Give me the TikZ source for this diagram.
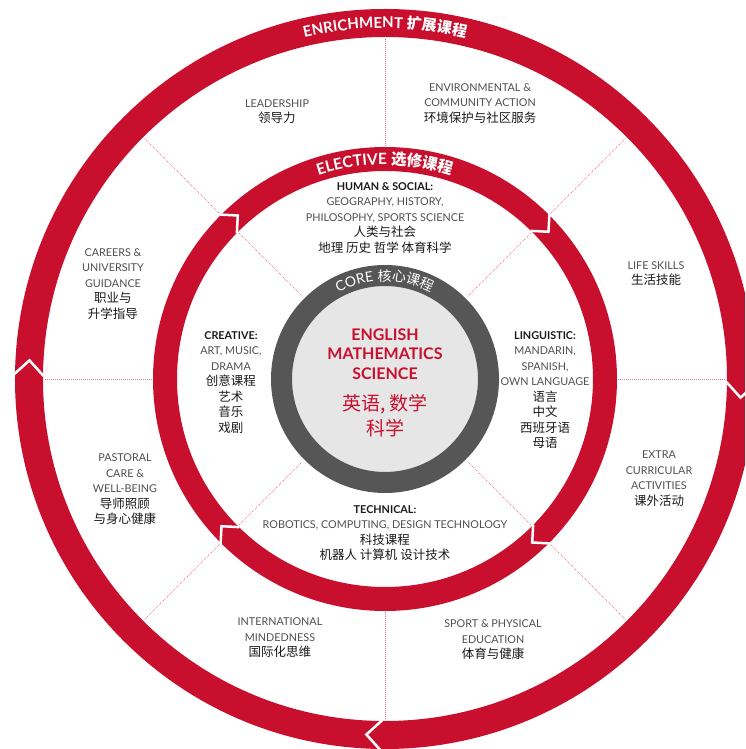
\documentclass[tikz,border=0pt]{standalone}
\usepackage{fontspec}
\setmainfont{Lato}
\newfontfamily\cjk{Noto Sans CJK SC}
\usetikzlibrary{calc,decorations.text}

\definecolor{ringred}{HTML}{C8102E}
\definecolor{coregray}{HTML}{575656}
\definecolor{corefill}{HTML}{E6E6E6}
\definecolor{divred}{HTML}{E0707E}
\definecolor{textgray}{HTML}{505050}
\definecolor{textdark}{HTML}{1A1A1A}

\newcommand{\entext}{\fontsize{10.8}{15.5}\selectfont}
\newcommand{\zhtext}{\color{textdark}\cjk\fontsize{12.5}{15.5}\selectfont}
\newcommand{\headtext}{\color{textdark}\bfseries}

\tikzset{
  blurb/.style={align=center, inner sep=0pt, text=textgray, font=\entext},
  divider/.style={draw=divred, line width=0.6pt, dash pattern=on 1pt off 1pt},
  notch/.style={draw=white, line width=2.5pt, line cap=butt, line join=miter},
}

\begin{document}
\begin{tikzpicture}[x=1pt,y=1pt]
    \useasboundingbox (-385,-370) rectangle (360,379);
    \clip (-385,-370) rectangle (360,379);
    \fill[white] (-385,-370) rectangle (360,379);

    % Rings
    \draw[ringred, line width=28pt] (0,0) circle (356);
    \draw[ringred, line width=24pt] (0,0) circle (220);
    \fill[corefill] (0,0) circle (103);
    \draw[coregray, line width=21pt] (0,0) circle (103.5);

    % Arrow notches, running clockwise
    \foreach \a in {177,267,357}
        \draw[notch] ($(\a:356)+(\a+45:21)$) -- (\a:356) -- ($(\a:356)+(\a+135:21)$);
    \foreach \a in {132,42,-48,-138}
        \draw[notch] ($(\a:220)+(\a+45:18)$) -- (\a:220) -- ($(\a:220)+(\a+135:18)$);

    % Dividers
    \foreach \a in {0,45,...,315}
        \draw[divider] (\a:233) -- (\a:341);
    \foreach \a in {45,135,225,315}
        \draw[divider] (\a:117) -- (\a:207);

    % Ring titles
    \path[decorate, decoration={text along path, text align=center,
        text={|\color{white}\bfseries\fontsize{15}{15}\selectfont|ENRICHMENT |\color{white}\cjk\bfseries\fontsize{15}{15}\selectfont|扩展课程}}]
        (115:351) arc (115:65:351);
    \path[decorate, decoration={text along path, text align=center,
        text={|\color{white}\bfseries\fontsize{15.5}{15.5}\selectfont|ELECTIVE |\color{white}\cjk\bfseries\fontsize{15.5}{15.5}\selectfont|选修课程}}]
        (125:214.5) arc (125:55:214.5);
    \path[decorate, decoration={text along path, text align=center,
        text={|\color{white}\fontsize{14}{14}\selectfont|CORE |\color{white}\cjk\fontsize{14}{14}\selectfont|核心课程}}]
        (137:98) arc (137:43:98);

    % Core
    \node[blurb, text=ringred, font=\bfseries\fontsize{16}{19.5}\selectfont] (coreen) at (0,25)
        {ENGLISH\\MATHEMATICS\\SCIENCE};
    \node[blurb, text=ringred, font=\cjk\fontsize{19}{25}\selectfont] (corezh) at (0,-37)
        {英语, 数学\\科学};

    % Elective
    \node[blurb] (human) at (0,161)
        {\headtext HUMAN \& SOCIAL:\\GEOGRAPHY, HISTORY,\\PHILOSOPHY, SPORTS SCIENCE\\\zhtext 人类与社会\\\zhtext 地理 历史 哲学 体育科学};
    \node[blurb] (creative) at (-154,-3.5)
        {\headtext CREATIVE:\\ART, MUSIC,\\DRAMA\\\zhtext 创意课程\\\zhtext 艺术\\\zhtext 音乐\\\zhtext 戏剧};
    \node[blurb] (ling) at (160,-11)
        {\headtext LINGUISTIC:\\MANDARIN,\\SPANISH,\\OWN LANGUAGE\\\zhtext 语言\\\zhtext 中文\\\zhtext 西班牙语\\\zhtext 母语};
    \node[blurb] (tech) at (0,-154)
        {\headtext TECHNICAL:\\ROBOTICS, COMPUTING, DESIGN TECHNOLOGY\\\zhtext 科技课程\\\zhtext 机器人 计算机 设计技术};

    % Enrichment
    \node[blurb] (lead) at (-108,267.5) {LEADERSHIP\\\zhtext 领导力};
    \node[blurb] (env) at (95,275.5) {ENVIRONMENTAL \&\\COMMUNITY ACTION\\\zhtext 环境保护与社区服务};
    \node[blurb] (life) at (271,105.5) {LIFE SKILLS\\\zhtext 生活技能};
    \node[blurb] (extra) at (274,-99.5) {EXTRA\\CURRICULAR\\ACTIVITIES\\\zhtext 课外活动};
    \node[blurb] (sport) at (108,-261) {SPORT \& PHYSICAL\\EDUCATION\\\zhtext 体育与健康};
    \node[blurb] (intl) at (-105,-259) {INTERNATIONAL\\MINDEDNESS\\\zhtext 国际化思维};
    \node[blurb] (pastoral) at (-260,-110.5) {PASTORAL\\CARE \&\\WELL-BEING\\\zhtext 导师照顾\\\zhtext 与身心健康};
    \node[blurb] (careers) at (-272,95) {CAREERS \&\\UNIVERSITY\\GUIDANCE\\\zhtext 职业与\\\zhtext 升学指导};
\end{tikzpicture}
\end{document}
